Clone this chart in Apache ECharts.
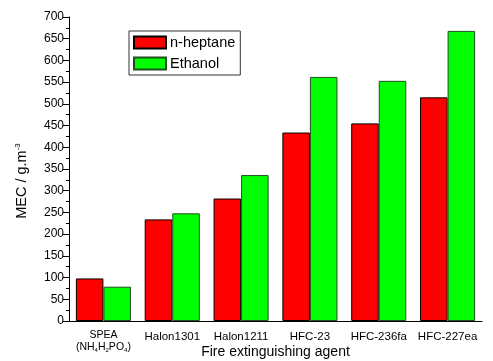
<!DOCTYPE html>
<html><head><meta charset="utf-8">
<script src="https://cdn.jsdelivr.net/npm/echarts@6/dist/echarts.min.js"></script>
<style>html,body{margin:0;padding:0;background:#fff}#c{width:493px;height:361px}</style>
</head><body><div id="c"></div>
<script>
const categories = ['SPEA', 'Halon1301', 'Halon1211', 'HFC-23', 'HFC-236fa', 'HFC-227ea'];
const nHeptane = [98, 234, 282, 434, 455, 515];
const ethanol = [79, 248, 336, 562, 553, 668];
const yTicks = {min: 0, max: 700, interval: 50};

const F = 'Liberation Sans, Arial, sans-serif';
const chart = echarts.init(document.getElementById('c'), null, {renderer: 'canvas'});
chart.setOption({
  animation: false,
  grid: {left: 69, right: 11, top: 17, bottom: 40, outerBoundsMode: 'none', containLabel: false},
  legend: {
    orient: 'vertical', left: 129, top: 31,
    borderColor: '#333', borderWidth: 1, padding: [4, 5, 4, 4],
    itemWidth: 32, itemHeight: 12, itemGap: 6,
    textStyle: {fontFamily: F, fontSize: 14.5, color: '#000', padding: [0, 0, 0, -1]},
    data: [{name: 'n-heptane', icon: 'rect'}, {name: 'Ethanol', icon: 'rect'}]
  },
  xAxis: [{
    type: 'category', data: categories,
    name: 'Fire extinguishing agent', nameLocation: 'middle', nameGap: 24, nameMoveOverlap: false,
    nameTextStyle: {fontFamily: F, fontSize: 14, color: '#000'},
    axisLine: {lineStyle: {color: '#000', width: 1}},
    axisTick: {alignWithLabel: true, length: 5, lineStyle: {color: '#000'}},
    axisLabel: {
      interval: 0,
      fontFamily: F, fontSize: 11.5, color: '#000', margin: 8,
      formatter: v => v === 'SPEA'
        ? '{t|SPEA}\n{u|(NH}{s|4}{u|H}{s|2}{u|PO}{s|4}{u|)}'
        : '{p|' + v + '}',
      rich: {
        t: {fontFamily: F, fontSize: 10.5, color: '#000', lineHeight: 12},
        u: {fontFamily: F, fontSize: 10.5, color: '#000', lineHeight: 12},
        s: {fontFamily: F, fontSize: 6, color: '#000', lineHeight: 12, verticalAlign: 'bottom'},
        p: {fontFamily: F, fontSize: 11.5, color: '#000', lineHeight: 13, padding: [3, 0, 0, 0]}
      }
    }
  }, {
    type: 'category', data: categories, position: 'bottom',
    axisLine: {show: false}, axisLabel: {show: false},
    axisTick: {length: 3, lineStyle: {color: '#000'}}
  }],
  yAxis: {
    type: 'value', min: yTicks.min, max: yTicks.max, interval: yTicks.interval,
    name: '{a|MEC / g.m}{s|-3}', nameLocation: 'middle', nameGap: 39, nameMoveOverlap: false,
    nameTextStyle: {
      padding: [0, 24, 0, 0],
      rich: {
        a: {fontFamily: F, fontSize: 14.5, color: '#000', lineHeight: 16},
        s: {fontFamily: F, fontSize: 8, color: '#000', lineHeight: 16, verticalAlign: 'top'}
      }
    },
    axisLine: {show: true, lineStyle: {color: '#000', width: 1}},
    axisTick: {show: true, length: 6, lineStyle: {color: '#000'}},
    minorTick: {show: true, splitNumber: 2, length: 3, lineStyle: {color: '#000'}},
    splitLine: {show: false},
    axisLabel: {fontFamily: F, fontSize: 12, color: '#000', margin: 5}
  },
  series: [{
    name: 'n-heptane', type: 'bar', data: nHeptane, barGap: '0%', barCategoryGap: '20%',
    itemStyle: {color: '#ff0000', borderColor: '#000', borderWidth: 1}
  }, {
    name: 'Ethanol', type: 'bar', data: ethanol,
    itemStyle: {color: '#00ff00', borderColor: '#1f4f1f', borderWidth: 1}
  }]
});
</script></body></html>
